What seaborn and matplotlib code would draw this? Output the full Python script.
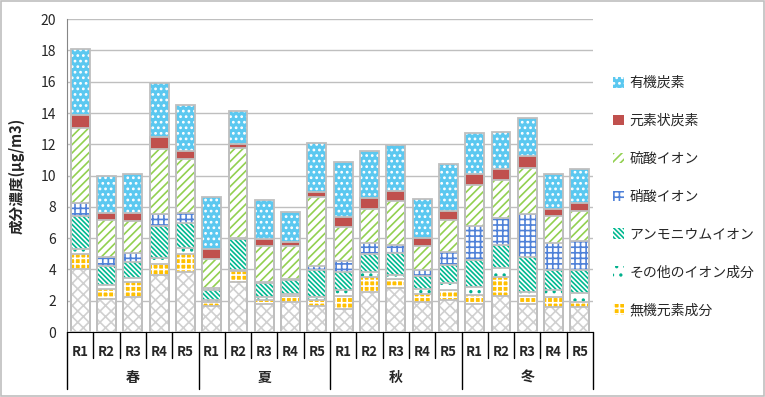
import numpy as np
import pandas as pd
import matplotlib.pyplot as plt
import matplotlib.patches as mpatches
import seaborn as sns

sns.set_style('white')
plt.rcParams['font.family'] = ['Noto Sans CJK JP', 'DejaVu Sans']
plt.rcParams['hatch.linewidth'] = 1.2

seasons = ['春', '夏', '秋', '冬']
sites = ['R1', 'R2', 'R3', 'R4', 'R5']

# stacked components, bottom -> top (20 bars: 春R1..冬R5)
base = [4.0, 2.1, 2.25, 3.62, 3.83, 1.65, 3.19, 1.78, 1.91, 1.69,
        1.46, 2.53, 2.79, 1.93, 2.04, 1.78, 2.29, 1.8, 1.61, 1.61]
inorganic = [1.0, 0.68, 0.96, 0.75, 1.18, 0.28, 0.69, 0.28, 0.38, 0.33,
             0.85, 0.96, 0.57, 0.51, 0.64, 0.6, 1.2, 0.51, 0.66, 0.34]
other_ion = [0.32, 0.2, 0.26, 0.38, 0.39, 0.13, 0.1, 0.17, 0.13, 0.21,
             0.37, 0.35, 0.28, 0.3, 0.45, 0.51, 0.6, 0.26, 0.41, 0.54]
ammonium = [2.08, 1.24, 1.01, 2.0, 1.56, 0.62, 1.95, 0.88, 0.9, 1.76,
            1.13, 1.15, 1.4, 0.82, 1.18, 1.72, 1.48, 2.21, 1.31, 1.5]
nitrate = [0.83, 0.56, 0.59, 0.77, 0.66, 0.11, 0.05, 0.06, 0.05, 0.21,
           0.75, 0.73, 0.55, 0.4, 0.81, 2.16, 1.74, 2.78, 1.71, 1.84]
sulfate = [4.82, 2.37, 2.02, 4.15, 3.47, 1.88, 5.8, 2.3, 2.14, 4.46,
           2.15, 2.17, 2.81, 1.55, 2.06, 2.66, 2.44, 2.9, 1.74, 1.93]
ec = [0.84, 0.43, 0.55, 0.79, 0.47, 0.63, 0.24, 0.47, 0.24, 0.3,
      0.64, 0.68, 0.62, 0.49, 0.56, 0.64, 0.69, 0.81, 0.42, 0.51]
oc = [4.2, 2.42, 2.45, 3.47, 2.98, 3.3, 2.12, 2.53, 1.95, 3.11,
      3.49, 2.98, 2.96, 2.53, 2.97, 2.68, 2.37, 2.44, 2.27, 2.12]

# (label, values, face, hatch, hatch colour)
layers = [
    (None, base, 'white', 'xxx', '#D0D0D0'),
    ('無機元素成分', inorganic, '#FFC000', '+++', 'white'),
    ('その他のイオン成分', other_ion, 'white', '..', '#00B08C'),
    ('アンモニウムイオン', ammonium, 'white', '\\' * 7, '#00B890'),
    ('硝酸イオン', nitrate, 'white', '+++', '#4F81D8'),
    ('硫酸イオン', sulfate, 'white', '////', '#92D050'),
    ('元素状炭素', ec, '#C0504D', None, '#C0504D'),
    ('有機炭素', oc, '#5BC8F0', '...', 'white'),
]

bars = [s + r for s in seasons for r in sites]
cums = np.cumsum(np.array([l[1] for l in layers]), axis=0)

fig = plt.figure(figsize=(7.65, 3.97), dpi=100)
ax = fig.add_axes([0.0876, 0.1637, 0.6876, 0.788])

# draw cumulative totals from the top series down
for (name, vals, face, hatch, hc), c in reversed(list(zip(layers, cums))):
    df = pd.DataFrame({'bar': bars, 'value': c})
    n0 = len(ax.patches)
    sns.barplot(data=df, x='bar', y='value', order=bars, color=face, saturation=1,
                errorbar=None, width=0.72, ax=ax)
    for p in ax.patches[n0:]:
        p.set_facecolor(face)
        p.set_edgecolor(hc)
        p.set_linewidth(0)
        p.set_hatch(hatch)
        p.set_zorder(2)

# outlines
for c in cums[::-1]:
    df = pd.DataFrame({'bar': bars, 'value': c})
    n0 = len(ax.patches)
    sns.barplot(data=df, x='bar', y='value', order=bars, color='white',
                errorbar=None, width=0.72, ax=ax)
    for p in ax.patches[n0:]:
        p.set_facecolor('none')
        p.set_edgecolor('#BFBFBF')
        p.set_linewidth(1.3)
        p.set_hatch(None)
        p.set_zorder(3)

ax.set_xlim(-0.5, 19.5)
ax.set_ylim(0, 20)
ax.set_yticks(range(0, 21, 2))
ax.yaxis.grid(True, color='#BFBFBF', lw=1)
ax.set_axisbelow(True)
ax.tick_params(axis='y', direction='out', length=4, color='#868686', labelsize=10, pad=4)
ax.set_ylabel('成分濃度(μg/m3)', fontsize=10.5, fontweight='bold')
ax.yaxis.set_label_coords(-0.08, 0.5)

ax.set_xticks(range(20))
ax.set_xticklabels(sites * 4, fontsize=9.5, fontweight='bold')
ax.tick_params(axis='x', length=0, pad=9)
ax.set_xlabel('')

for sp in ['top', 'right']:
    ax.spines[sp].set_visible(False)
ax.spines['left'].set_color('#868686')
ax.spines['bottom'].set_color('black')

# category separators
trans = ax.get_xaxis_transform()
for i in range(21):
    ylow = -0.182 if i % 5 == 0 else -0.083
    ax.plot([i - 0.5, i - 0.5], [0, ylow], color='black', lw=1,
            transform=trans, clip_on=False)
for k, s in enumerate(seasons):
    ax.text(k * 5 + 2, -0.147, s, transform=trans, ha='center', va='center',
            fontsize=10, fontweight='bold')

handles = [mpatches.Patch(facecolor=face, edgecolor=hc, hatch=hatch, lw=0, label=name)
           for name, vals, face, hatch, hc in layers[::-1] if name is not None]
fig.legend(handles=handles, loc='upper left', bbox_to_anchor=(0.785, 0.84),
           frameon=False, fontsize=10, handlelength=0.8, handleheight=0.8,
           handletextpad=0.4, labelspacing=1.72)

fig.add_artist(mpatches.Rectangle((0.001, 0.002), 0.998, 0.996, transform=fig.transFigure,
                                  fill=False, edgecolor='#BFBFBF', lw=1.2))

fig.savefig('out.png', dpi=100)
